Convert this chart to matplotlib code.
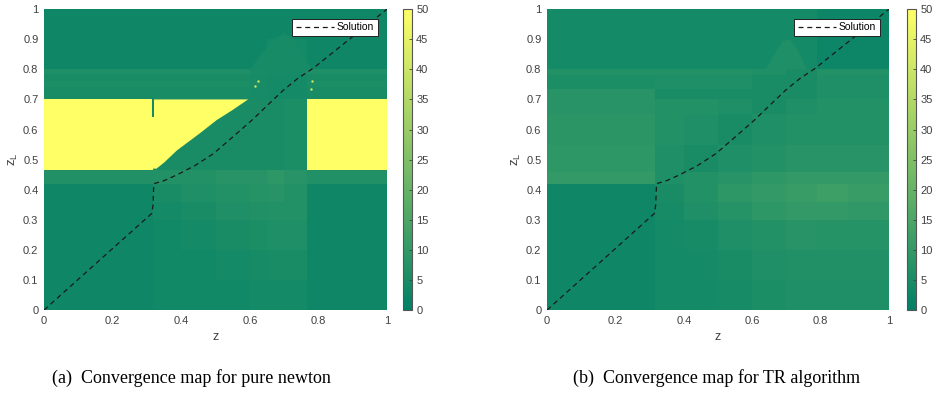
import numpy as np
import matplotlib
matplotlib.use("Agg")
import matplotlib.pyplot as plt
from matplotlib.colors import Normalize

plt.rcParams["font.family"] = ["Liberation Sans", "DejaVu Sans"]

# ---- data ----
# (a) pure newton: cell edges and iteration counts (rows bottom -> top)
a_z = [0, 0.317, 0.40, 0.50, 0.60, 0.65, 0.70, 0.767, 0.80, 1.0]
a_zl = [0, 0.1, 0.2, 0.3, 0.36, 0.42, 0.465, 0.70, 0.74, 0.76, 0.785, 0.80, 0.85, 0.90, 1.0]
a_vals = [
    [3, 3.5, 3.5, 3.5, 4, 4, 4, 3, 3],
    [3, 3.5, 3.5, 4, 4.5, 5, 5, 3, 3],
    [3, 3.5, 4, 5, 5.5, 6, 6, 3, 3],
    [3, 4, 5, 6, 6.5, 7, 7, 3, 3],
    [3, 5, 6, 7, 7.5, 8, 7, 3, 3],
    [6.5, 7, 7, 8, 8, 9, 8, 6.5, 6.5],
    [50, 5, 5, 5, 5, 5, 5.5, 50, 50],
    [5, 5, 5, 5, 4.5, 4, 4, 5, 5],
    [5.5, 5.5, 5.5, 5.5, 5, 4, 4, 5.5, 5.5],
    [5, 5, 5, 5, 4.5, 4, 4, 5, 5],
    [6, 6, 6, 6, 5, 4.5, 4.5, 6, 6],
    [3, 3, 3, 3, 3, 4, 4, 3, 3],
    [3, 3, 3, 3, 3, 4, 4, 3, 3],
    [3, 3, 3, 3, 3, 3, 3, 3, 3],
]
# yellow wedge (non converged) right of z = 0.317
wedge_z = [0.317, 0.317, 0.328, 0.35, 0.387, 0.455, 0.503, 0.55, 0.595, 0.317]
wedge_zl = [0.465, 0.47, 0.47, 0.49, 0.53, 0.588, 0.631, 0.665, 0.70, 0.70]
spot_z = [0.625, 0.615, 0.782, 0.778]
spot_zl = [0.76, 0.745, 0.76, 0.735]
a_tent_z = [0.60, 0.64, 0.67, 0.70, 0.73, 0.76, 0.78]
a_tent_zl = [0.80, 0.86, 0.90, 0.92, 0.90, 0.84, 0.80]

# (b) TR algorithm
b_z = [0, 0.315, 0.40, 0.50, 0.60, 0.70, 0.79, 0.88, 1.0]
b_zl = [0, 0.1, 0.2, 0.3, 0.36, 0.42, 0.46, 0.55, 0.65, 0.70, 0.735, 0.78, 0.80, 0.85, 0.90, 1.0]
b_vals = [
    [3, 4, 4, 4.5, 5.5, 6, 6, 6],
    [3, 4, 4, 5, 6, 6.5, 6.5, 6.5],
    [3, 4, 4.5, 6, 7, 8, 7.5, 7.5],
    [3, 4.5, 6, 7.5, 9, 10, 10, 9.5],
    [3, 5, 7, 9, 10, 11, 12, 11],
    [10, 6, 7, 8, 9, 10, 10, 10],
    [9, 6, 5, 6, 7, 8, 8, 8],
    [8.5, 7, 6, 5, 6, 7, 7, 7],
    [8, 7, 7, 6, 5, 6, 7, 7],
    [8, 5, 5, 5, 5, 5, 6, 6],
    [5.5, 6, 6, 6, 5, 5, 6, 6],
    [7, 7, 7, 7, 6, 5, 7, 7],
    [4, 4, 4, 4, 4, 4, 2.5, 2.5],
    [4, 4, 4, 4, 4, 4, 2.5, 2.5],
    [4, 4, 4, 4, 4, 4, 2.5, 2.5],
]
b_tent_z = [0.64, 0.67, 0.69, 0.71, 0.73, 0.76]
b_tent_zl = [0.80, 0.86, 0.895, 0.90, 0.87, 0.80]

# solution path
sol_z = [0, 0.314, 0.318, 0.320, 0.35, 0.387, 0.44, 0.494, 0.55, 0.61, 0.66, 0.698, 0.74, 0.784, 1.0]
sol_zl = [0, 0.321, 0.35, 0.420, 0.43, 0.449, 0.48, 0.52, 0.575, 0.635, 0.69, 0.731, 0.77, 0.803, 1.0]

captions = ["(a)  Convergence map for pure newton", "(b)  Convergence map for TR algorithm"]

cmap = plt.get_cmap("summer")
norm = Normalize(0, 50)
tick_col = "#404040"

fig = plt.figure(figsize=(9.36, 3.98), dpi=100)
ax_a = fig.add_axes([0.047, 0.221, 0.3665, 0.756])
cax_a = fig.add_axes([0.4306, 0.221, 0.0096, 0.756])
ax_b = fig.add_axes([0.5844, 0.221, 0.3654, 0.756])
cax_b = fig.add_axes([0.969, 0.221, 0.0096, 0.756])


def draw_map(ax, cax, ze, zle, vals, tz, tzl, tv):
    m = ax.pcolormesh(ze, zle, np.array(vals), cmap=cmap, norm=norm,
                      shading="flat", antialiased=False, linewidth=0)
    ax.fill(tz, tzl, color=cmap(norm(tv)), lw=0)
    ax.set_xlim(0, 1)
    ax.set_ylim(0, 1)
    ax.set_xticks(np.arange(0, 1.01, 0.2))
    ax.set_xticklabels(["0", "0.2", "0.4", "0.6", "0.8", "1"])
    ax.set_yticks(np.arange(0, 1.01, 0.1))
    ax.set_yticklabels(["0", "0.1", "0.2", "0.3", "0.4", "0.5", "0.6", "0.7", "0.8", "0.9", "1"])
    ax.tick_params(length=0, labelsize=8, colors=tick_col, pad=4)
    for s in ax.spines.values():
        s.set_visible(False)
    ax.set_xlabel("z", fontsize=9, color=tick_col, labelpad=4)
    ax.set_ylabel(r"$\mathregular{z_L}$", fontsize=9.5, color=tick_col, labelpad=2)
    cb = fig.colorbar(m, cax=cax, ticks=range(0, 51, 5))
    cb.outline.set_edgecolor("#555555")
    cb.outline.set_linewidth(0.8)
    cax.tick_params(direction="in", length=2.5, width=0.6, labelsize=8,
                    colors=tick_col, pad=3)
    return m


draw_map(ax_a, cax_a, a_z, a_zl, a_vals, a_tent_z, a_tent_zl, 4.5)
ax_a.fill(wedge_z, wedge_zl, color=cmap(1.0), lw=0)
ax_a.plot([0.317, 0.317], [0.645, 0.70], color=cmap(norm(3)), lw=1.4)
ax_a.scatter(spot_z, spot_zl, s=3, color=cmap(norm(40)), lw=0)

draw_map(ax_b, cax_b, b_z, b_zl, b_vals, b_tent_z, b_tent_zl, 6)

for ax in (ax_a, ax_b):
    ax.plot(sol_z, sol_zl, ls=(0, (4, 3)), color="#1a1a1a", lw=0.9, label="Solution")
    leg = ax.legend(loc="upper right", fontsize=7.5, fancybox=False, framealpha=1,
                    edgecolor="#222222", borderaxespad=0.9, handlelength=3.6,
                    borderpad=0.35, handletextpad=0.3)
    leg.get_frame().set_linewidth(0.7)

fig.text(0.204, 0.05, captions[0], ha="center", va="center",
         family="Liberation Serif", fontsize=13)
fig.text(0.766, 0.05, captions[1], ha="center", va="center",
         family="Liberation Serif", fontsize=13)

fig.savefig("out.png", dpi=100)
